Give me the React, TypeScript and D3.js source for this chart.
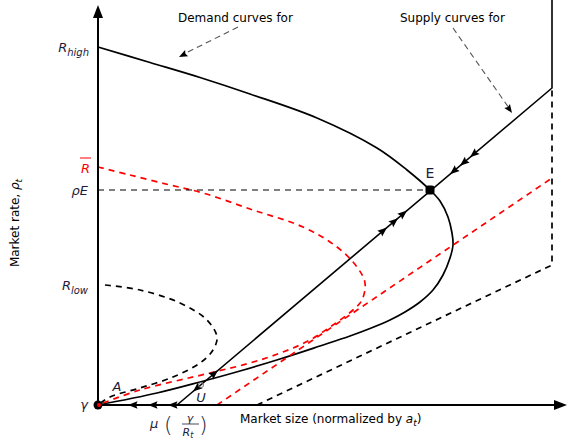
import React from 'react';
import * as d3 from 'd3';

type P = [number, number];

// Data (x: market size offset, y: market rate offset)
const demandHigh: P[] = [
  [0, 358], [52, 342.5], [102, 327.5], [152, 311], [219, 287], [279, 257], [309, 235],
  [332, 215], [342, 204], [350, 188], [354, 172], [355, 160], [352, 147], [345, 130],
  [335, 115], [322, 103], [307, 93], [292, 85], [272, 76.5], [252, 69], [222, 59],
  [182, 46], [142, 34], [102, 23], [59, 12], [0, 0],
];
const demandMid: P[] = [
  [0, 238], [32, 230], [72, 220], [105, 212], [155, 195], [205, 178], [239, 158],
  [259, 138], [267, 122], [264, 105], [255, 95], [235, 80], [212, 65], [185, 53],
  [152, 42], [112, 32], [42, 15], [0, 0],
];
const demandLow: P[] = [
  [7, 120], [42, 115], [82, 102], [109, 85], [119, 68], [115, 55], [102, 42],
  [75, 28], [42, 17], [12, 8], [0, 0],
];
const supplySolid: P[] = [[79, 0], [454, 317], [454, 405]];
const supplyRed: P[] = [[119, 0], [454, 227]];
const supplyDashed: P[] = [[159, 0], [454, 140], [454, 317]];
const equilibrium: P = [332, 215];
const unstable: P = [103, 20];
const yTickValues = [358, 238, 215, 118, 0];
const upArrowsX = [120, 289, 300, 309];
const downArrowsX = [95, 352, 362, 372];
const axisArrowsX = [30, 50, 70];

const xS = d3.scaleLinear().domain([0, 470]).range([98, 568]);
const yS = d3.scaleLinear().domain([0, 400]).range([405, 5]);

const curveLine = d3.line<P>().x(d => xS(d[0])).y(d => yS(d[1])).curve(d3.curveCatmullRom.alpha(0.5));
const straight = d3.line<P>().x(d => xS(d[0])).y(d => yS(d[1]));

const TXT = '#1c1c3a';
const FONT = 'DejaVu Sans, sans-serif';

function onSupply(x: number): P {
  const [a, b] = supplySolid;
  const t = (x - a[0]) / (b[0] - a[0]);
  return [x, a[1] + t * (b[1] - a[1])];
}

function Head({ px, py, ang, color = '#000', s = 1 }: { px: number; py: number; ang: number; color?: string; s?: number }) {
  return (
    <path
      d={`M0,0 L${-9.5 * s},${-3.8 * s} L${-8 * s},0 L${-9.5 * s},${3.8 * s} Z`}
      fill={color}
      transform={`translate(${px},${py}) rotate(${(ang * 180) / Math.PI})`}
    />
  );
}

export default function App() {
  const s0 = supplySolid[0], s1 = supplySolid[1];
  const upAng = Math.atan2(yS(s1[1]) - yS(s0[1]), xS(s1[0]) - xS(s0[0]));
  const downAng = upAng + Math.PI;
  const dash = '6,5';
  return (
    <svg width={567} height={439} style={{ display: 'block', position: 'absolute', left: 0, top: 0 }}>
      <rect width={567} height={439} fill="#fff" />
      {/* demand curves */}
      <path d={curveLine(demandHigh)!} fill="none" stroke="#000" strokeWidth={1.7} />
      <path d={curveLine(demandMid)!} fill="none" stroke="#ff0000" strokeWidth={1.7} strokeDasharray={dash} />
      <path d={curveLine(demandLow)!} fill="none" stroke="#000" strokeWidth={1.7} strokeDasharray={dash} />
      {/* supply curves */}
      <path d={straight(supplyRed)!} fill="none" stroke="#ff0000" strokeWidth={1.7} strokeDasharray={dash} />
      <path d={straight(supplyDashed)!} fill="none" stroke="#000" strokeWidth={1.7} strokeDasharray={dash} />
      <path d={straight(supplySolid)!} fill="none" stroke="#000" strokeWidth={1.6} />
      {/* rho E dashed */}
      <line x1={xS(0)} x2={xS(equilibrium[0])} y1={yS(equilibrium[1])} y2={yS(equilibrium[1])} stroke="#000" strokeWidth={1.2} strokeDasharray={dash} />
      {/* axes */}
      <line x1={xS(0)} x2={xS(0)} y1={yS(0)} y2={14} stroke="#000" strokeWidth={2} />
      <path d="M98,5 L93,18 L103,18 Z" fill="#000" />
      <line x1={xS(0)} x2={558} y1={yS(0)} y2={yS(0)} stroke="#000" strokeWidth={2} />
      <path d="M567,405 L554,400 L554,410 Z" fill="#000" />
      {/* arrows on supply */}
      {upArrowsX.map((x, i) => {
        const p = onSupply(x);
        return <Head key={'u' + i} px={xS(p[0])} py={yS(p[1])} ang={upAng} />;
      })}
      {downArrowsX.map((x, i) => {
        const p = onSupply(x);
        return <Head key={'d' + i} px={xS(p[0])} py={yS(p[1])} ang={downAng} />;
      })}
      {axisArrowsX.map((x, i) => (
        <Head key={'a' + i} px={xS(x)} py={yS(0)} ang={Math.PI} />
      ))}
      {/* points */}
      <circle cx={xS(0)} cy={yS(0)} r={4.5} fill="#000" />
      <circle cx={xS(0) + 1} cy={yS(0)} r={2} fill="#ff0000" />
      <circle cx={xS(unstable[0])} cy={yS(unstable[1])} r={2.5} fill="none" stroke="#777" strokeWidth={1} />
      <rect x={xS(equilibrium[0]) - 4.5} y={yS(equilibrium[1]) - 4.5} width={9} height={9} rx={2.5} fill="#000" />
      <text x={xS(equilibrium[0])} y={yS(equilibrium[1]) - 12} textAnchor="middle" fontFamily={FONT} fontSize={14} fill={TXT}>E</text>
      <text x={117} y={391} textAnchor="middle" fontFamily={FONT} fontSize={13} fontStyle="italic" fill={TXT}>A</text>
      <text x={201} y={402} textAnchor="middle" fontFamily={FONT} fontSize={13} fontStyle="italic" fill={TXT}>U</text>
      {/* y tick labels */}
      <g fontFamily={FONT} fill={TXT} textAnchor="end">
        <text x={89} y={yS(yTickValues[0]) + 5} fontSize={13} fontStyle="italic">R<tspan fontSize={10} dy={4}>high</tspan></text>
        <text x={90} y={yS(yTickValues[1]) + 6} fontSize={13} fontStyle="italic" fill="#ff0000">R</text>
        <line x1={80} x2={91} y1={yS(yTickValues[1]) - 9} y2={yS(yTickValues[1]) - 9} stroke="#ff0000" strokeWidth={1} />
        <text x={88} y={yS(yTickValues[2]) + 5} fontSize={13} fontStyle="italic">ρE</text>
        <text x={88} y={yS(yTickValues[3]) + 3} fontSize={13} fontStyle="italic">R<tspan fontSize={10} dy={4}>low</tspan></text>
        <text x={88} y={yS(yTickValues[4]) + 4} fontSize={13} fontStyle="italic">γ</text>
      </g>
      {/* axis titles */}
      <text transform="translate(19,223) rotate(-90)" textAnchor="middle" fontFamily={FONT} fontSize={12} fill="#000">
        Market rate, <tspan fontStyle="italic">ρ</tspan><tspan fontStyle="italic" fontSize={9} dy={3}>t</tspan>
      </text>
      <text x={240} y={423} fontFamily={FONT} fontSize={12} fill="#000">
        Market size (normalized by <tspan fontStyle="italic">a</tspan><tspan fontStyle="italic" fontSize={9} dy={3}>t</tspan><tspan dy={-3}>)</tspan>
      </text>
      {/* mu label */}
      <g fontFamily={FONT} fill={TXT}>
        <text x={150} y={428} fontSize={13} fontStyle="italic">μ</text>
        <text x={164} y={432} fontSize={22} fontWeight={300}>(</text>
        <text x={190} y={422} fontSize={11} fontStyle="italic" textAnchor="middle">γ</text>
        <line x1={182} x2={199} y1={424} y2={424} stroke={TXT} strokeWidth={0.8} />
        <text x={188} y={436} fontSize={11} fontStyle="italic" textAnchor="middle">R<tspan fontSize={8} dy={2}>t</tspan></text>
        <text x={199} y={432} fontSize={22} fontWeight={300}>)</text>
      </g>
      {/* annotations */}
      <text x={178} y={22} fontFamily={FONT} fontSize={12} fill="#000">Demand curves for</text>
      <text x={400} y={22} fontFamily={FONT} fontSize={12} fill="#000">Supply curves for</text>
      <line x1={238} y1={27} x2={184} y2={54} stroke="#555" strokeWidth={1.1} strokeDasharray="6,4" />
      <Head px={179} py={57} ang={Math.atan2(57 - 27, 179 - 238)} s={0.9} />
      <line x1={453} y1={28} x2={509} y2={108} stroke="#555" strokeWidth={1.1} strokeDasharray="6,4" />
      <Head px={512} py={113} ang={Math.atan2(113 - 28, 512 - 453)} s={0.9} />
    </svg>
  );
}
